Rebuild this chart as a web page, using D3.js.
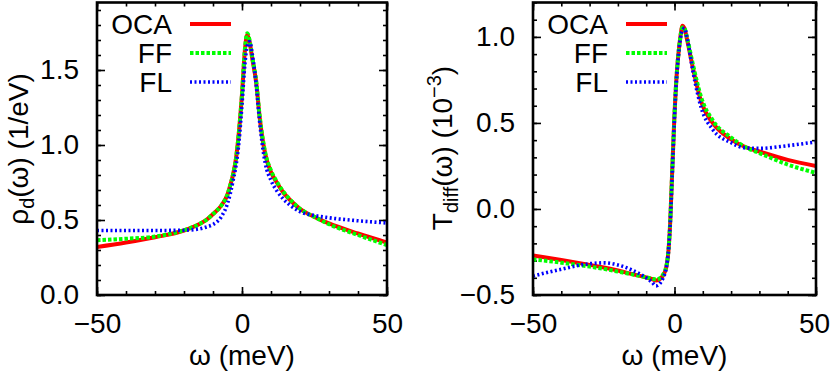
<!DOCTYPE html>
<html>
<head>
<meta charset="utf-8">
<script src="https://cdn.jsdelivr.net/npm/d3@7"></script>
<style>
body{margin:0;background:#fff;}
text{font-family:"Liberation Sans",Arial,Helvetica,sans-serif;fill:#000;}
</style>
</head>
<body>
<svg id="chart" width="830" height="378"></svg>
<script>
//left panel data, rho_d(omega)
var omegaL=[-50,-40,-30,-20,-15,-12,-10,-7,-5,-4,-3,-2,-1,0,1,1.8,2.6,3.5,5,6,8,10,12,14,17,20,25,30,40,50]
var rhoOCA=[0.32,0.35,0.385,0.43,0.47,0.505,0.54,0.6,0.67,0.735,0.81,0.92,1.1,1.34,1.63,1.735,1.69,1.58,1.4,1.2,0.94,0.82,0.75,0.69,0.625,0.575,0.52,0.477,0.41,0.35]
var rhoFF=[0.365,0.375,0.39,0.432,0.47,0.505,0.54,0.6,0.67,0.735,0.81,0.92,1.1,1.34,1.64,1.745,1.7,1.59,1.41,1.21,0.95,0.83,0.755,0.695,0.628,0.575,0.52,0.472,0.4,0.333]
var rhoFL=[0.43,0.43,0.43,0.432,0.44,0.455,0.47,0.525,0.61,0.68,0.77,0.87,1.03,1.27,1.54,1.66,1.69,1.61,1.38,1.17,0.88,0.765,0.695,0.645,0.593,0.556,0.53,0.515,0.495,0.48]

//right panel data, T_diff(omega)
var omegaR=[-50,-40,-30,-25,-20,-15,-10,-8,-6.5,-5,-4,-3,-2.5,-2,-1.5,-1,-0.5,0,0.5,1,1.5,2,2.8,3.5,4.5,6.5,9.5,13.5,20,25,30,40,50]
var tOCA=[-0.27,-0.296,-0.325,-0.34,-0.358,-0.378,-0.398,-0.407,-0.415,-0.405,-0.385,-0.345,-0.3,-0.215,-0.07,0.14,0.35,0.55,0.71,0.83,0.92,0.99,1.065,1.05,0.98,0.82,0.62,0.5,0.405,0.36,0.334,0.285,0.25]
var tFF=[-0.293,-0.312,-0.335,-0.348,-0.364,-0.38,-0.397,-0.404,-0.41,-0.4,-0.38,-0.34,-0.295,-0.21,-0.065,0.14,0.35,0.55,0.71,0.83,0.92,0.99,1.055,1.05,0.99,0.84,0.645,0.515,0.415,0.36,0.325,0.258,0.21]
var tFL=[-0.39,-0.35,-0.318,-0.313,-0.325,-0.355,-0.4,-0.425,-0.447,-0.43,-0.4,-0.35,-0.3,-0.22,-0.08,0.12,0.33,0.53,0.7,0.82,0.91,0.98,1.04,1.05,0.99,0.8,0.585,0.462,0.385,0.355,0.352,0.368,0.39]

var xTicks=[-50,0,50]
var yTicksL=[0,0.5,1.0,1.5]
var yTicksR=[-0.5,0,0.5,1.0]
var legendNames=["OCA","FF","FL"]

var styles=[
    {color:"#ff0000",width:4,dash:null},
    {color:"#00ff00",width:4,dash:"3.5,2"},
    {color:"#0000ff",width:3.6,dash:"2,2.5"}
]

var svg=d3.select("#chart")

var drawPanel=function(p){
    var xScale=d3.scaleLinear().domain([-50,50]).range([p.left,p.right])
    var yScale=d3.scaleLinear().domain(p.ydom).range([p.bottom,p.top])
    var g=svg.append("g")

    //minor ticks
    var minorX=d3.range(-50,51,10)
    var minorY=d3.range(p.ydom[0],p.ydom[1]+0.001,0.1)
    g.append("g").attr("transform","translate(0,"+p.bottom+")")
        .call(d3.axisBottom(xScale).tickValues(minorX).tickSize(-4).tickFormat(""))
    g.append("g").attr("transform","translate(0,"+p.top+")")
        .call(d3.axisTop(xScale).tickValues(minorX).tickSize(-4).tickFormat(""))
    g.append("g").attr("transform","translate("+p.left+",0)")
        .call(d3.axisLeft(yScale).tickValues(minorY).tickSize(-4).tickFormat(""))
    g.append("g").attr("transform","translate("+p.right+",0)")
        .call(d3.axisRight(yScale).tickValues(minorY).tickSize(-4).tickFormat(""))

    //major ticks + labels
    g.append("g").classed("xaxis",true).attr("transform","translate(0,"+p.bottom+")")
        .call(d3.axisBottom(xScale).tickValues(xTicks).tickSize(-8).tickPadding(18).tickFormat(d3.format("d")))
    g.append("g").attr("transform","translate(0,"+p.top+")")
        .call(d3.axisTop(xScale).tickValues(xTicks).tickSize(-8).tickFormat(""))
    g.append("g").classed("yaxis",true).attr("transform","translate("+p.left+",0)")
        .call(d3.axisLeft(yScale).tickValues(p.yticks).tickSize(-8).tickPadding(18).tickFormat(d3.format(".1f")))
    g.append("g").attr("transform","translate("+p.right+",0)")
        .call(d3.axisRight(yScale).tickValues(p.yticks).tickSize(-8).tickFormat(""))

    g.selectAll(".domain").remove()
    g.selectAll(".tick line").attr("stroke","#000").attr("stroke-width",1.6)
    g.selectAll(".tick text").attr("font-size",28).attr("font-family","Liberation Sans, Arial, sans-serif").attr("fill","#000")
    //last x label sits at the page edge, pull it in a bit
    g.selectAll(".xaxis .tick text").filter(function(d){return d==50}).attr("dx",p.lastDx)

    //curves
    var line=d3.line()
        .x(function(d){return xScale(d[0])})
        .y(function(d){return yScale(d[1])})
        .curve(d3.curveMonotoneX)
    var clip="clip"+p.id
    svg.append("clipPath").attr("id",clip).append("rect")
        .attr("x",p.left).attr("y",p.top).attr("width",p.right-p.left).attr("height",p.bottom-p.top)
    var curves=g.append("g").attr("clip-path","url(#"+clip+")")
    p.series.forEach(function(vals,i){
        var pts=p.omega.map(function(w,j){return [w,vals[j]]})
        curves.append("path")
            .datum(pts)
            .attr("d",line)
            .attr("fill","none")
            .attr("stroke",styles[i].color)
            .attr("stroke-width",styles[i].width)
            .attr("stroke-dasharray",styles[i].dash)
    })

    //legend
    var rows=[24,53,82]
    legendNames.forEach(function(name,i){
        g.append("text")
            .text(name)
            .attr("x",p.left+75)
            .attr("y",rows[i]+10)
            .attr("text-anchor","end")
            .attr("font-size",28)
        g.append("line")
            .attr("x1",p.left+93).attr("x2",p.left+134)
            .attr("y1",rows[i]).attr("y2",rows[i])
            .attr("stroke",styles[i].color)
            .attr("stroke-width",styles[i].width)
            .attr("stroke-dasharray",styles[i].dash)
    })

    //frame
    g.append("rect")
        .attr("x",p.left).attr("y",p.top)
        .attr("width",p.right-p.left).attr("height",p.bottom-p.top)
        .attr("fill","none").attr("stroke","#000").attr("stroke-width",2.6)

    //x title
    g.append("text")
        .text("ω (meV)")
        .attr("x",(p.left+p.right)/2)
        .attr("y",365)
        .attr("text-anchor","middle")
        .attr("font-size",28)
    return g
}

var gl=drawPanel({id:"L",left:97,right:387,top:2.5,bottom:295,ydom:[0,1.95],yticks:yTicksL,
    omega:omegaL,series:[rhoOCA,rhoFF,rhoFL],lastDx:0})
var gr=drawPanel({id:"R",left:533,right:816,top:2.5,bottom:295,ydom:[-0.5,1.2],yticks:yTicksR,
    omega:omegaR,series:[tOCA,tFF,tFL],lastDx:-2})

//y titles
var tl=gl.append("text")
    .attr("transform","translate(28,149) rotate(-90)")
    .attr("text-anchor","middle")
    .attr("font-size",28)
tl.append("tspan").text("ρ")
tl.append("tspan").text("d").attr("font-size",20).attr("dy",6)
tl.append("tspan").text("(ω) (1/eV)").attr("dy",-6)

var tr=gr.append("text")
    .attr("transform","translate(452,148) rotate(-90)")
    .attr("text-anchor","middle")
    .attr("font-size",28)
tr.append("tspan").text("T")
tr.append("tspan").text("diff").attr("font-size",20).attr("dy",6)
tr.append("tspan").text("(ω) (10").attr("dy",-6)
tr.append("tspan").text("−3").attr("font-size",20).attr("dy",-11)
tr.append("tspan").text(")").attr("dy",11)
</script>
</body>
</html>
